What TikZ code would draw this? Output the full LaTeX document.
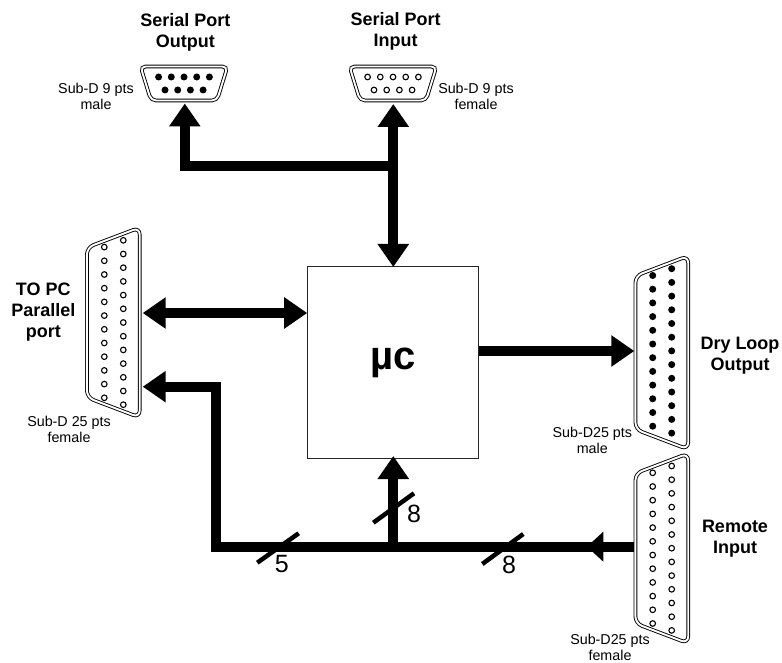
\documentclass[tikz,border=0pt]{standalone}
\usepackage{fontspec}
\setmainfont{Liberation Sans}
\usetikzlibrary{arrows.meta}
\newcommand{\dbshell}[3]{% cx, cy, extra bottom
  \draw[shell,rounded corners=7pt] (#1-26.4,#2-75) -- (#1+26.4,#2-95) -- (#1+26.4,#2+95+#3) -- (#1-26.4,#2+75+#3) -- cycle;}
\newcommand{\dbpins}[3]{% cx, cy, style
  \foreach \k in {0,...,11} \path[#3] (#1-9.5,#2-75.4+13.7*\k) circle;
  \foreach \k in {0,...,12} \path[#3] (#1+9.5,#2-82.2+13.7*\k) circle;}
\newcommand{\dbnine}[3]{% cx, cy, style
  \draw[shell,rounded corners=5pt] (#1-43.5,#2-17) -- (#1+43.5,#2-17) -- (#1+33,#2+17) -- (#1-33,#2+17) -- cycle;
  \foreach \k in {0,...,4} \path[#3] (#1-25.4+12.7*\k,#2-6.5) circle;
  \foreach \k in {0,...,3} \path[#3] (#1-19+12.7*\k,#2+6.5) circle;}
\tikzset{
  shell/.style={draw=black,line width=0.9pt,double=white,double distance=1.9pt},
  malepin/.style={fill=black,radius=3.5pt},
  femalepin/.style={draw=black,fill=white,line width=1.1pt,radius=2.8pt},
  anchorbox/.style={inner sep=0pt,outer sep=0pt,draw=none},
  bigtip/.tip={Triangle[length=23pt,width=30pt]},
  bus/.style={line width=10pt,black,line join=miter},
  slash/.style={line width=4.5pt,black},
  title/.style={font=\fontsize{18}{20.8}\selectfont\bfseries,align=center,inner sep=0pt},
  note/.style={font=\fontsize{14.3}{16}\selectfont,align=center,inner sep=0pt},
  count/.style={font=\fontsize{25}{25}\selectfont,inner sep=0pt},
  mcbox/.style={draw=black!85,line width=1pt,fill=white,minimum width=170.6pt,minimum height=191.3pt,inner sep=0pt,font=\fontsize{40}{40}\selectfont\bfseries}
}
\begin{document}
\begin{tikzpicture}[x=1pt,y=-1pt]
\useasboundingbox (0,0) rectangle (782,663);
% connectors
\dbnine{184}{83.5}{malepin}
\dbnine{393}{83.5}{femalepin}
\dbshell{113.3}{322.5}{0}\dbpins{113.8}{322.5}{femalepin}
\dbshell{661.8}{350.9}{3.5}\dbpins{662.2}{350.9}{malepin}
\dbshell{661.8}{548.4}{0}\dbpins{662.2}{548.2}{femalepin}
% anchor areas
\node[anchorbox,minimum width=88pt,minimum height=39pt] (so) at (184.8,84) {};
\node[anchorbox,minimum width=88pt,minimum height=39pt] (si) at (393.3,84.5) {};
\node[anchorbox,minimum width=58.8pt,minimum height=189pt] (pc) at (113.3,322.5) {};
\node[anchorbox,minimum width=55pt,minimum height=192pt] (dry) at (661.8,351) {};
\node[anchorbox,minimum width=55pt,minimum height=189pt] (rem) at (661.8,546.7) {};
% controller
\node[mcbox] (uc) at (393,362.65) {\raisebox{-2pt}{µc}};
% junctions
\coordinate (topj) at (393.3,166);
\coordinate (utop) at (393.3,267);
\coordinate (ubot) at (393.3,456);
\coordinate (busj) at (393.3,546.7);
\coordinate (corner) at (216,546.7);
\coordinate (pclow) at (pc.east |- 0,386.7);
\coordinate (pclowc) at (216,386.7);
\coordinate (pcin) at (pc.east |- 0,313);
\coordinate (ucin) at (uc.west |- 0,313);
\coordinate (ucout) at (uc.east |- 0,351);
\coordinate (dryin) at (dry.west |- 0,351);
\coordinate (midtip) at (587,546.7);
% buses
\draw[bus,{bigtip}-{bigtip}] (si.south) -- (utop);
\draw[bus,-{bigtip}] (topj) -| (so.south);
\draw[bus,{bigtip}-{bigtip}] (pcin) -- (ucin);
\draw[bus,-{bigtip}] (ucout) -- (dryin);
\draw[bus,-{bigtip}] (rem.west) -- (corner) -- (pclowc) -- (pclow);
\draw[bus,-{bigtip}] (busj) -- (ubot);
\fill[black] (midtip) -- (603.3,531.7) -- (603.3,561.7) -- cycle;
% slashes
\draw[slash] (257.3,562.7) -- (298.7,533.3);
\draw[slash] (373.3,522.7) -- (414,493.3);
\draw[slash] (482.3,564) -- (523.3,534);
\node[count] (n5) at (281.7,564.3) {5};
\node[count] (n8a) at (414,514) {8};
\node[count] (n8b) at (509,565) {8};
% labels
\node[title] (t1) at (185.3,32) {Serial Port\\Output};
\node[title] (t2) at (395.7,31.5) {Serial Port\\Input};
\node[title] (t3) at (43.3,312) {TO PC\\Parallel\\port};
\node[title] (t4) at (740,355.5) {Dry Loop\\Output};
\node[title] (t5) at (735,538.7) {Remote\\Input};
\node[note] (s1) at (96,96) {Sub-D 9 pts\\male};
\node[note] (s2) at (476,96) {Sub-D 9 pts\\female};
\node[note] (s3) at (69,429.5) {Sub-D 25 pts\\female};
\node[note] (s4) at (592.3,440) {Sub-D25 pts\\male};
\node[note] (s5) at (610,647) {Sub-D25 pts\\female};
\end{tikzpicture}
\end{document}
